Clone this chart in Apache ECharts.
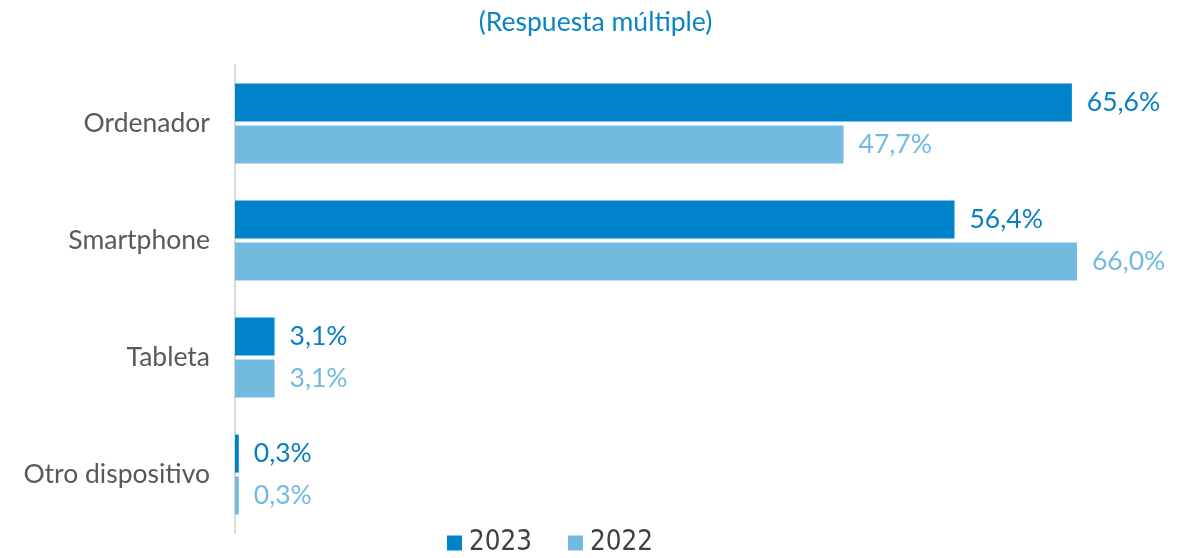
<!DOCTYPE html>
<html><head><meta charset="utf-8">
<script src="https://cdn.jsdelivr.net/npm/echarts@6/dist/echarts.min.js"></script>
<style>html,body{margin:0;padding:0;background:#fff}#c{width:1191px;height:558px}</style>
</head><body><div id="c"></div>
<script>
const categories = ['Ordenador', 'Smartphone', 'Tableta', 'Otro dispositivo'];
const values2023 = [65.6, 56.4, 3.1, 0.3];
const values2022 = [47.7, 66.0, 3.1, 0.3];
const seriesNames = ['2023', '2022'];
const titleText = '(Respuesta múltiple)';

const fmt = p => p.value.toFixed(1).replace('.', ',') + '%';
const chart = echarts.init(document.getElementById('c'));
chart.setOption({
  animation: false,
  title: { text: titleText, left: 'center', top: 4, textStyle: { fontFamily: 'Lato', fontWeight: 'normal', fontSize: 26.5, color: '#0a84c6' } },
  legend: { bottom: -4, left: 442, itemWidth: 15, itemHeight: 15, itemGap: 36, icon: 'rect',
    textStyle: { fontFamily: 'DejaVu Sans Condensed', fontSize: 27.5, color: '#404040', padding: [0, 0, 0, 2] }, data: seriesNames },
  grid: { left: 235, top: 65, bottom: 25, width: 893, containLabel: false },
  xAxis: { type: 'value', min: 0, max: 70, show: false },
  yAxis: { type: 'category', data: categories, inverse: true,
    axisLine: { show: true, lineStyle: { color: '#d9d9d9', width: 2 } }, axisTick: { show: false },
    axisLabel: { fontFamily: 'Lato', fontSize: 26.5, color: '#595959', margin: 25 } },
  series: [
    { name: seriesNames[0], type: 'bar', data: values2023, barWidth: 38, barGap: '10%',
      itemStyle: { color: '#0083c9' },
      label: { show: true, position: 'right', distance: 15, formatter: fmt, fontFamily: 'Lato', fontSize: 26.5, color: '#0a7fc2' } },
    { name: seriesNames[1], type: 'bar', data: values2022, barWidth: 38,
      itemStyle: { color: '#72bae0' },
      label: { show: true, position: 'right', distance: 15, formatter: fmt, fontFamily: 'Lato', fontSize: 26.5, color: '#72bae0' } }
  ]
});
</script></body></html>
